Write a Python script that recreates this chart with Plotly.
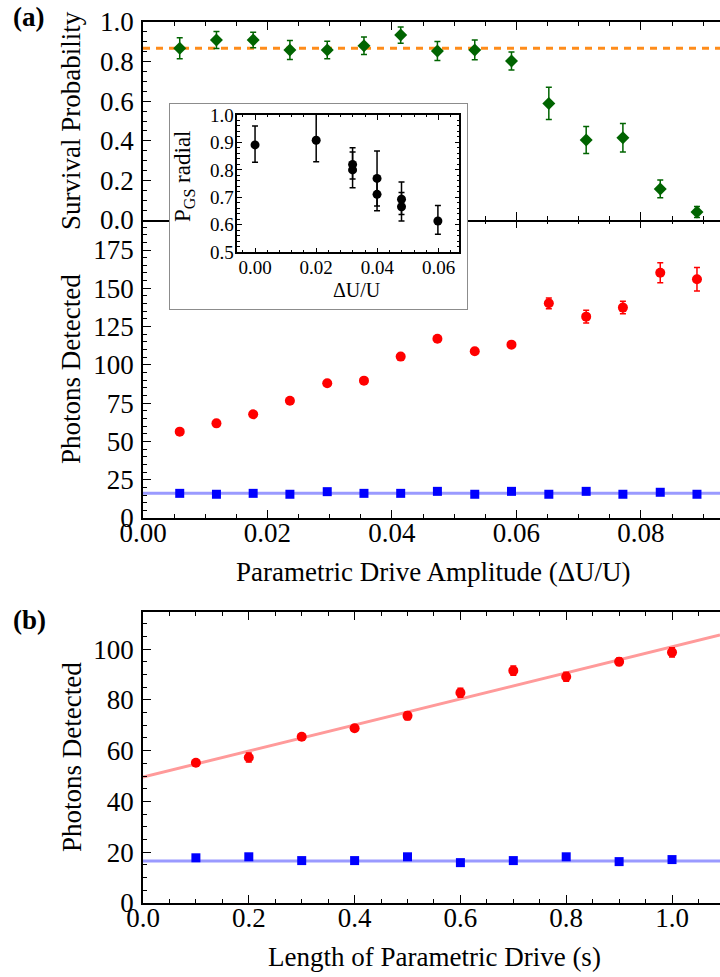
import plotly.graph_objects as go

# ---------------- data: panel (a) ----------------
amp = [0.0059, 0.0118, 0.0177, 0.0236, 0.0296, 0.0355, 0.0414, 0.0473,
       0.0533, 0.0592, 0.0652, 0.0712, 0.0771, 0.0831, 0.0890]
survival = [0.867, 0.909, 0.909, 0.859, 0.859, 0.880, 0.934, 0.854,
            0.859, 0.803, 0.589, 0.404, 0.416, 0.157, 0.040]
survival_err = [0.053, 0.043, 0.039, 0.048, 0.044, 0.044, 0.041, 0.048,
                0.050, 0.045, 0.081, 0.068, 0.072, 0.045, 0.028]
survival_ref = 0.867

photons_amp = [56.4, 61.8, 67.7, 76.6, 88.0, 89.7, 105.4, 117.1,
               108.9, 113.2, 140.2, 131.5, 137.4, 160.2, 155.9]
photons_amp_err = [1.5, 1.5, 1.5, 1.5, 1.5, 1.5, 1.5, 1.5,
                   1.5, 1.5, 3.5, 4.2, 4.1, 6.5, 7.6]
background_amp = [16.1, 15.5, 16.1, 15.5, 17.2, 16.1, 16.1, 17.4,
                  15.5, 17.4, 15.5, 17.4, 15.5, 16.8, 15.5]
background_amp_level = 16.1

# inset
inset_x = [0.0, 0.020, 0.0319, 0.0319, 0.0399, 0.0399, 0.0479, 0.0479, 0.0598]
inset_y = [0.891, 0.908, 0.820, 0.800, 0.769, 0.711, 0.693, 0.666, 0.614]
inset_err_plus = [0.069, 0.100, 0.061, 0.065, 0.100, 0.060, 0.063, 0.052, 0.056]
inset_err_minus = [0.063, 0.078, 0.053, 0.065, 0.100, 0.060, 0.055, 0.052, 0.048]

# ---------------- data: panel (b) ----------------
drive_len = [0.1, 0.2, 0.3, 0.4, 0.5, 0.6, 0.7, 0.8, 0.9, 1.0]
photons_len = [55.2, 57.3, 65.5, 68.8, 73.7, 82.8, 91.5, 89.1, 95.0, 98.7]
photons_len_err = [1.2, 1.8, 1.2, 1.2, 1.5, 1.8, 1.8, 1.8, 1.5, 1.8]
background_len = [17.8, 18.2, 16.7, 16.7, 18.2, 15.9, 16.7, 18.2, 16.3, 17.1]
background_len_level = 16.5
fit_intercept = 49.6
fit_slope = 51.3

# axis ranges
XA = [0, 0.0927]
XB = [0, 1.0907]
Y_SURV = [0, 1.0]
Y_PHOT_A = [0, 194.6]
Y_PHOT_B = [0, 114.6]
X_INSET = [-0.0058, 0.0668]
Y_INSET = [0.5, 1.0]
BOX = [0, 1]

FONT = "Liberation Serif, Times New Roman, Tinos, DejaVu Serif, serif"
W, H = 720, 977
ML, MR, MT, MB = 143, 0, 22, 74
PW, PH = W - ML - MR, H - MT - MB


def px(x):
    return (x - ML) / PW


def py(y):
    return (H - MB - y) / PH


RED = "#ff0000"
BLUE = "#0000ff"
GREEN = "#006400"

fig = go.Figure()

# top panel: survival probability
fig.add_trace(go.Scatter(x=XA, y=[survival_ref, survival_ref], mode="lines",
                         line=dict(color="#ff8c1a", width=3, dash="7px,6px"),
                         xaxis="x", yaxis="y", hoverinfo="skip"))
fig.add_trace(go.Scatter(x=amp, y=survival, mode="markers",
                         marker=dict(symbol="diamond", size=10, color=GREEN),
                         error_y=dict(type="data", array=survival_err, color=GREEN,
                                      thickness=1.5, width=3),
                         xaxis="x", yaxis="y"))

# middle panel: photons vs amplitude
fig.add_trace(go.Scatter(x=XA, y=[background_amp_level, background_amp_level], mode="lines",
                         line=dict(color="#9a9aff", width=3), xaxis="x2", yaxis="y2"))
fig.add_trace(go.Scatter(x=amp, y=background_amp, mode="markers",
                         marker=dict(symbol="square", size=9, color=BLUE),
                         xaxis="x2", yaxis="y2"))
fig.add_trace(go.Scatter(x=amp, y=photons_amp, mode="markers",
                         marker=dict(symbol="circle", size=10, color=RED),
                         error_y=dict(type="data", array=photons_amp_err, color=RED,
                                      thickness=1.5, width=3),
                         xaxis="x2", yaxis="y2"))
# empty trace so the top tick row of the middle panel is drawn
fig.add_trace(go.Scatter(x=[], y=[], mode="markers", xaxis="x6", yaxis="y2",
                         hoverinfo="skip"))

# bottom panel: photons vs drive length
fit_y = [fit_intercept + fit_slope * v for v in XB]
fig.add_trace(go.Scatter(x=XB, y=fit_y, mode="lines",
                         line=dict(color="#ff9a9a", width=3), xaxis="x3", yaxis="y3"))
fig.add_trace(go.Scatter(x=XB, y=[background_len_level, background_len_level], mode="lines",
                         line=dict(color="#9a9aff", width=3), xaxis="x3", yaxis="y3"))
fig.add_trace(go.Scatter(x=drive_len, y=background_len, mode="markers",
                         marker=dict(symbol="square", size=9, color=BLUE),
                         xaxis="x3", yaxis="y3"))
fig.add_trace(go.Scatter(x=drive_len, y=photons_len, mode="markers",
                         marker=dict(symbol="circle", size=10, color=RED),
                         error_y=dict(type="data", array=photons_len_err, color=RED,
                                      thickness=1.5, width=3),
                         xaxis="x3", yaxis="y3"))

# inset white framed box (own subplot, drawn above the main panels)
fig.add_trace(go.Scatter(x=[BOX[0], BOX[1], BOX[1], BOX[0], BOX[0]],
                         y=[BOX[0], BOX[0], BOX[1], BOX[1], BOX[0]],
                         mode="lines", fill="toself", fillcolor="white",
                         line=dict(color="#8c8c8c", width=2), cliponaxis=False,
                         hoverinfo="skip", xaxis="x4", yaxis="y4"))

# inset data
fig.add_trace(go.Scatter(x=inset_x, y=inset_y, mode="markers",
                         marker=dict(symbol="circle", size=9, color="black"),
                         error_y=dict(type="data", array=inset_err_plus,
                                      arrayminus=inset_err_minus, color="black",
                                      thickness=1.5, width=3),
                         cliponaxis=True, xaxis="x5", yaxis="y5"))

tickfont = dict(family=FONT, size=27, color="black")


def axis_common(**kw):
    d = dict(showline=True, linecolor="black", linewidth=1.5, ticks="inside",
             ticklen=8, tickwidth=1.3, tickcolor="black", showgrid=False,
             zeroline=False, tickfont=tickfont, fixedrange=True)
    d.update(kw)
    return d


def minor(dt, ln=4):
    return dict(dtick=dt, ticklen=ln, ticks="inside", tickcolor="black", tickwidth=1.2)


dom_top = [py(220), py(22)]
dom_mid = [py(518), py(220)]
dom_bot = [py(903), py(612)]

hidden = dict(visible=False, fixedrange=True)

fig.update_layout(
    width=W, height=H,
    margin=dict(l=ML, r=MR, t=MT, b=MB),
    paper_bgcolor="white", plot_bgcolor="white",
    showlegend=False,
    font=dict(family=FONT, color="black"),
    xaxis=axis_common(range=XA, domain=[0, 1], anchor="y", mirror="ticks",
                      showticklabels=False, dtick=0.02, tick0=0, minor=minor(0.005)),
    yaxis=axis_common(range=Y_SURV, domain=dom_top, anchor="x", dtick=0.2, tick0=0,
                      tickformat=".1f", minor=minor(0.05), ticklabelstandoff=2),
    xaxis2=axis_common(range=XA, domain=[0, 1], anchor="y2", mirror=False,
                       dtick=0.02, tick0=0, tickformat=".2f", minor=minor(0.005),
                       ticklabelstandoff=-10),
    xaxis6=axis_common(range=XA, overlaying="x2", side="top", anchor="y2",
                       showline=False, showticklabels=False, dtick=0.02, tick0=0,
                       minor=minor(0.005)),
    yaxis2=axis_common(range=Y_PHOT_A, domain=dom_mid, anchor="x2", dtick=25, tick0=0,
                       minor=minor(5), ticklabelstandoff=2),
    xaxis3=axis_common(range=XB, domain=[0, 1], anchor="y3", mirror="ticks",
                       dtick=0.2, tick0=0, tickformat=".1f", minor=minor(0.05),
                       ticklabelstandoff=-10),
    yaxis3=axis_common(range=Y_PHOT_B, domain=dom_bot, anchor="x3", dtick=20, tick0=0,
                       minor=minor(5), ticklabelstandoff=2),
    xaxis4=dict(hidden, range=BOX, domain=[px(169), px(468)], anchor="y4"),
    yaxis4=dict(hidden, range=BOX, domain=[py(310), py(103)], anchor="x4"),
    xaxis5=axis_common(range=X_INSET, domain=[px(237.3), px(459.3)], anchor="y5",
                       mirror="ticks", dtick=0.02, tick0=0, tickformat=".2f", ticklen=5,
                       tickfont=dict(family=FONT, size=19, color="black"),
                       minor=minor(0.004, 2.5), ticklabelstandoff=-3),
    yaxis5=axis_common(range=Y_INSET, domain=[py(252.3), py(115)], anchor="x5",
                       mirror="ticks", dtick=0.1, tick0=0, tickformat=".1f", ticklen=5,
                       tickfont=dict(family=FONT, size=19, color="black"),
                       minor=minor(0.02, 2.5), ticklabelstandoff=-2),
)

ann = []


def add_text(text, x, y, size=27, angle=0, bold=False):
    ann.append(dict(text=f"<b>{text}</b>" if bold else text, x=px(x), y=py(y),
                    xref="paper", yref="paper", showarrow=False, textangle=angle,
                    xanchor="center", yanchor="middle",
                    font=dict(family=FONT, size=size, color="black")))


add_text("(a)", 28, 17, bold=True)
add_text("(b)", 29, 620, bold=True)
add_text("Survival Probability", 71, 121, angle=-90)
add_text("Photons Detected", 71, 369, angle=-90)
add_text("Photons Detected", 72, 757, angle=-90)
add_text("Parametric Drive Amplitude (ΔU/U)", 433, 572)
add_text("Length of Parametric Drive (s)", 434, 957)
add_text("ΔU/U", 357, 290, size=20)
add_text("P<sub>GS</sub> radial", 184, 177, size=23, angle=-90)
fig.update_layout(annotations=ann)

fig.write_html("out.html")
